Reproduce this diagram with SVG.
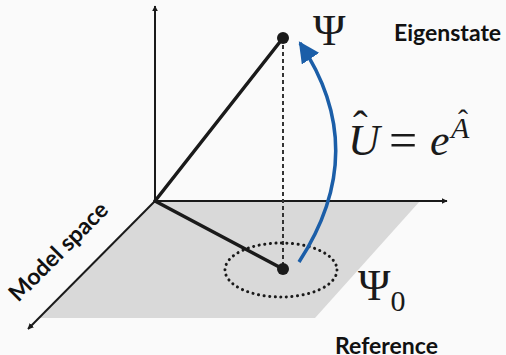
<svg xmlns="http://www.w3.org/2000/svg" width="506" height="355" viewBox="0 0 506 355">
<style>
.axis{stroke:#1a1a1a;stroke-width:2;fill:none}
.thick{stroke:#1a1a1a;stroke-width:3.5;fill:none;stroke-linecap:round}
.label{font-family:Lato,"Liberation Sans",sans-serif;font-weight:bold;font-size:23px;fill:#111}
.math{font-family:"Liberation Serif","DejaVu Serif",serif;fill:#1a1a1a}
.it{font-style:italic}
</style>
<defs>
<marker id="ah" viewBox="0 0 10 10" refX="9" refY="5" markerWidth="6" markerHeight="6" markerUnits="userSpaceOnUse" orient="auto">
<path d="M0,0 L10,5 L0,10 z" fill="#1a1a1a"/>
</marker>
<marker id="bh" viewBox="0 0 10 10" refX="9" refY="5" markerWidth="6" markerHeight="6" orient="auto">
<path d="M0,0 L10,5 L0,10 z" fill="#1b5ea8"/>
</marker>
</defs>
<rect width="506" height="355" fill="#fafafa"/>
<g id="plane">
<polygon points="155,201 420,201 315,318 40,318" fill="#d9d9d9"/>
</g>
<g id="connectors">
<line class="axis" x1="155" y1="201" x2="155" y2="6" marker-end="url(#ah)"/>
<line class="axis" x1="155" y1="201" x2="447" y2="201" marker-end="url(#ah)"/>
<line class="axis" x1="155" y1="201" x2="28" y2="329" marker-end="url(#ah)"/>
<line class="thick" x1="155" y1="201" x2="283" y2="38"/>
<line class="thick" x1="155" y1="201" x2="283" y2="269"/>
<line x1="283" y1="38" x2="283" y2="269" stroke="#333" stroke-width="2" stroke-dasharray="4,3"/>
<ellipse cx="281" cy="270" rx="56" ry="27" fill="none" stroke="#1a1a1a" stroke-width="3" stroke-linecap="round" stroke-dasharray="0.1,5.5"/>
<path d="M299,262 Q372,150 300,43" fill="none" stroke="#1b5ea8" stroke-width="3.5" marker-end="url(#bh)"/>
</g>
<g id="psi">
<circle cx="283" cy="38" r="6" fill="#1a1a1a"/>
<text class="math" x="313" y="45" font-size="44">Ψ</text>
</g>
<g id="psi0">
<circle cx="283" cy="269" r="6" fill="#1a1a1a"/>
<text class="math" x="358" y="300" font-size="44">Ψ<tspan font-size="30" dy="11">0</tspan></text>
</g>
<g id="operator">
<text class="math" font-size="44"><tspan class="it" x="348" y="155">U</tspan><tspan x="353" y="141">ˆ</tspan><tspan x="389" y="157" font-size="50">=</tspan><tspan class="it" x="430" y="155">e</tspan><tspan class="it" x="451" y="138" font-size="30">A</tspan><tspan x="458" y="130" font-size="30">ˆ</tspan></text>
</g>
<g id="labels">
<text class="label" x="394" y="41">Eigenstate</text>
<text class="label" x="335" y="354">Reference</text>
<text class="label" transform="translate(64,257) rotate(-45)" text-anchor="middle">Model space</text>
</g>
</svg>
